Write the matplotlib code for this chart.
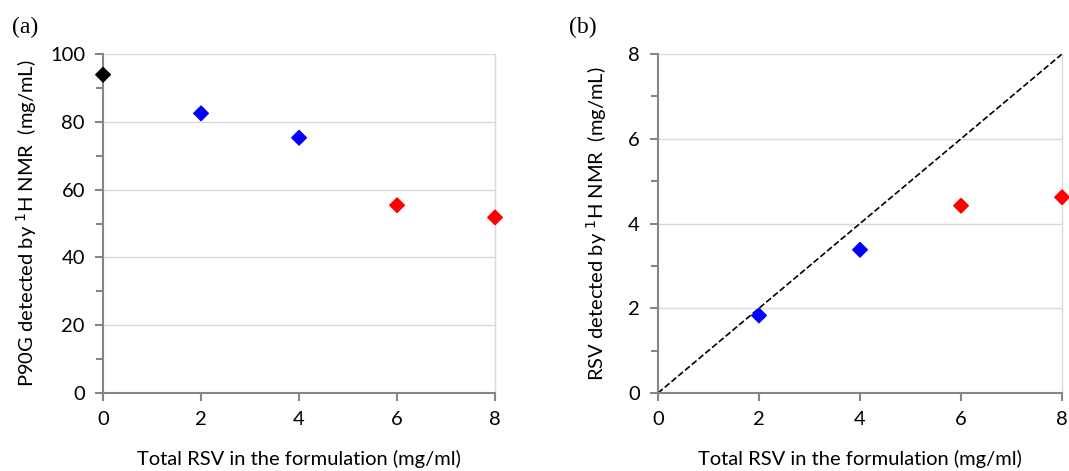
import numpy as np
import matplotlib
matplotlib.use("Agg")
import matplotlib.pyplot as plt
from matplotlib.ticker import MultipleLocator

plt.rcParams['font.family'] = ['Lato', 'DejaVu Sans']

# data
x_rsv = [0, 2, 4, 6, 8]
p90g_detected = [93.9, 82.5, 75.3, 55.4, 51.8]
colors_a = ["black", "blue", "blue", "red", "red"]

x_rsv_b = [2, 4, 6, 8]
rsv_detected = [1.83, 3.38, 4.42, 4.62]
colors_b = ["blue", "blue", "red", "red"]

axis_col = "#868686"
grid_col = "#d9d9d9"

fig = plt.figure(figsize=(10.69, 4.71), dpi=100)
ax_a = fig.add_axes([0.0964, 0.1656, 0.3667, 0.7197])
ax_b = fig.add_axes([0.6155, 0.1656, 0.378, 0.7197])


def style_axis(ax, ymax, ymajor):
    ax.set_xlim(0, 8)
    ax.set_ylim(0, ymax)
    ax.xaxis.set_major_locator(MultipleLocator(2))
    ax.yaxis.set_major_locator(MultipleLocator(ymajor))
    ax.yaxis.set_minor_locator(MultipleLocator(ymajor / 2))
    ax.grid(axis="y", which="major", color=grid_col, lw=1)
    ax.set_axisbelow(True)
    for s in ["left", "bottom"]:
        ax.spines[s].set_color(axis_col)
        ax.spines[s].set_linewidth(1.5)
    ax.spines["top"].set_visible(False)
    ax.spines["right"].set_color(grid_col)
    ax.spines["right"].set_linewidth(1)
    ax.tick_params(which="both", direction="out", color=axis_col, width=1.5,
                   labelsize=14.5, pad=7)
    ax.tick_params(which="major", length=6)
    ax.tick_params(which="minor", length=5)
    ax.set_xlabel("Total RSV in the formulation (mg/ml)", fontsize=14.5, labelpad=16)


# (a)
style_axis(ax_a, 100, 20)
ax_a.scatter(x_rsv, p90g_detected, c=colors_a, marker="D", s=55, zorder=3,
             clip_on=False)
ax_a.set_ylabel("P90G detected by $^{1}$H NMR  (mg/mL)", fontsize=14.5, labelpad=8)
fig.text(0.011, 0.93, "(a)", fontsize=17, family="Liberation Serif")

# (b)
style_axis(ax_b, 8, 2)
ax_b.plot([0, 8], [0, 8], ls="--", color="black", lw=1.2, zorder=2)
ax_b.scatter(x_rsv_b, rsv_detected, c=colors_b, marker="D", s=55, zorder=3,
             clip_on=False)
ax_b.set_ylabel("RSV detected by $^{1}$H NMR  (mg/mL)", fontsize=14.5, labelpad=14)
fig.text(0.532, 0.93, "(b)", fontsize=17, family="Liberation Serif")

fig.savefig("out.png", dpi=100)
